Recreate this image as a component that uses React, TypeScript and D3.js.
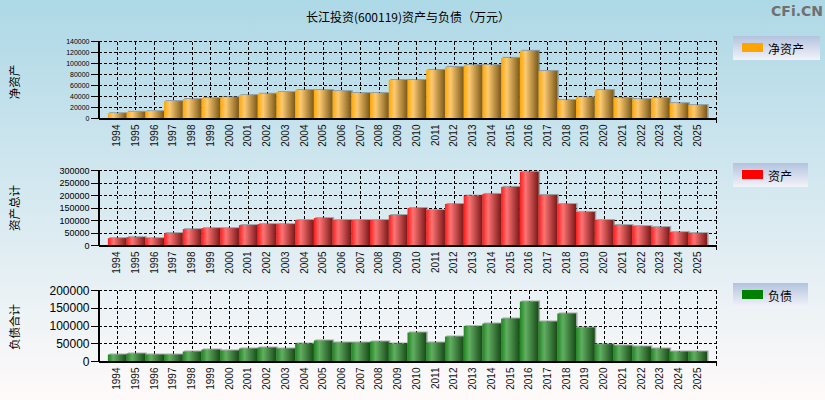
import React from "react";
import * as d3 from "d3";

const years = [
  "1994","1995","1996","1997","1998","1999","2000","2001","2002","2003","2004",
  "2005","2006","2007","2008","2009","2010","2011","2012","2013","2014","2015",
  "2016","2017","2018","2019","2020","2021","2022","2023","2024","2025",
];
const netAssets = [
  9700, 12200, 13400, 31700, 35300, 37100, 39000, 42600, 45000, 48100, 51700,
  51700, 49900, 46300, 46300, 70000, 70000, 88300, 93700, 97400, 97400, 110200,
  123000, 86400, 33500, 39000, 51700, 37100, 35300, 37100, 28000, 24400,
];
const totalAssets = [
  29500, 33500, 29500, 49600, 65600, 69600, 69600, 81700, 85700, 85700, 101800,
  109800, 101800, 101800, 101800, 121900, 150000, 142000, 166000, 199600, 206300, 234400,
  294600, 202200, 166000, 133900, 101800, 81700, 77700, 73700, 53600, 49600,
];
const totalLiabilities = [
  19700, 22500, 19700, 19700, 28200, 33800, 31000, 36600, 39400, 36600, 50700,
  59200, 53500, 53500, 56300, 50700, 81700, 53500, 70400, 99500, 107000, 121100,
  169000, 112700, 135200, 95800, 48800, 45000, 42300, 36600, 28200, 28200,
];

const titleText = "长江投资(600119)资产与负债（万元）";

type Panel = {
  key: string;
  values: number[];
  max: number;
  step: number;
  top: number;
  bottom: number;
  tickFont: number;
  yTitle: string;
  yTitleY: number;
  legend: string;
  legendColor: string;
  legendBox: [number, number, number, number];
  grad: string[];
};

const panels: Panel[] = [
  {
    key: "net", values: netAssets, max: 140000, step: 20000, top: 41.5, bottom: 118.5,
    tickFont: 7, yTitle: "净资产", yTitleY: 82, legend: "净资产", legendColor: "#ffa500",
    legendBox: [733, 36, 87, 24], grad: ["#ffa600", "#fdca72", "#7a5818"],
  },
  {
    key: "assets", values: totalAssets, max: 300000, step: 50000, top: 170.5, bottom: 245.5,
    tickFont: 9, yTitle: "资产总计", yTitleY: 208, legend: "资产", legendColor: "#ff0000",
    legendBox: [733, 163, 75, 24], grad: ["#ff1a1a", "#ff7474", "#7a1818"],
  },
  {
    key: "liab", values: totalLiabilities, max: 200000, step: 50000, top: 290.5, bottom: 361.5,
    tickFont: 12, yTitle: "负债合计", yTitleY: 327, legend: "负债", legendColor: "#008000",
    legendBox: [733, 283, 75, 24], grad: ["#1e861e", "#62ae62", "#174a17"],
  },
];

const X0 = 98.5;
const X1 = 716.5;
const font = "'Liberation Sans', Arial, sans-serif";
const cjk = "'Noto Sans CJK SC', 'Liberation Sans', sans-serif";
const snap = (v: number) => Math.round(v - 0.5) + 0.5;

export default function App() {
  const slot = (X1 - X0) / (years.length + 1);
  const x = d3.scaleBand<string>().domain(years).range([X0 + slot / 2, X1 - slot / 2]).padding(0);
  const bw = x.bandwidth();

  return (
    <svg width={825} height={400} style={{ position: "absolute", left: 0, top: 0 }}
      xmlns="http://www.w3.org/2000/svg">
      <defs>
        <linearGradient id="bg" x1="0" y1="0" x2="0" y2="1">
          <stop offset="0" stopColor="#add8e6" />
          <stop offset="1" stopColor="#fffafa" />
        </linearGradient>
        <linearGradient id="lg" x1="0" y1="0" x2="0" y2="1">
          <stop offset="0" stopColor="#b3c3df" />
          <stop offset="1" stopColor="#f3f3f9" />
        </linearGradient>
        {panels.map((p) => (
          <linearGradient key={p.key} id={"g-" + p.key} x1="0" y1="0" x2="1" y2="0">
            <stop offset="0" stopColor={p.grad[0]} />
            <stop offset="0.3" stopColor={p.grad[1]} />
            <stop offset="1" stopColor={p.grad[2]} />
          </linearGradient>
        ))}
      </defs>
      <rect x={0} y={0} width={825} height={400} fill="url(#bg)" />

      <text x={408} y={22} textAnchor="middle" fontFamily={cjk} fontSize={12} fill="#000">
        {titleText}
      </text>
      <text x={823} y={16} textAnchor="end" fontFamily="'DejaVu Sans', sans-serif" fontWeight="bold"
        fontSize={14} fill="#707070">CFi.CN</text>

      {panels.map((p) => {
        const y = d3.scaleLinear().domain([0, p.max]).range([p.bottom, p.top]);
        const ticks = d3.range(0, p.max + 1, p.step);
        const [lx, ly, lw, lh] = p.legendBox;
        return (
          <g key={p.key}>
            <g shapeRendering="crispEdges">
              {ticks.slice(1).map((t) => (
                <line key={"h" + t} x1={X0} x2={X1} y1={snap(y(t))} y2={snap(y(t))} stroke="#000"
                  strokeWidth={1} strokeDasharray="3,2" />
              ))}
              {years.map((yr) => (
                <line key={"v" + yr} x1={snap(x(yr)! + bw / 2)} x2={snap(x(yr)! + bw / 2)} y1={p.top} y2={p.bottom}
                  stroke="#000" strokeWidth={1} strokeDasharray="3,2" />
              ))}
              <line x1={X1} x2={X1} y1={p.top} y2={p.bottom} stroke="#000" strokeDasharray="3,2" />
            </g>
            {p.values.map((v, i) => (
              <rect key={"s" + i} x={x(years[i])! + 1.5} y={y(v) - 1} width={bw}
                height={p.bottom - y(v) + 1} fill="#6b6b6b" opacity={0.55} />
            ))}
            {p.values.map((v, i) => (
              <rect key={"b" + i} x={x(years[i])!} y={y(v)} width={bw}
                height={p.bottom - y(v)} fill={`url(#g-${p.key})`} />
            ))}
            <g shapeRendering="crispEdges">
              <line x1={X0} x2={X0} y1={p.top} y2={p.bottom} stroke="#000" strokeWidth={2} />
              <line x1={X0} x2={X1} y1={p.bottom} y2={p.bottom} stroke="#000" strokeWidth={2} />
              <line x1={X1} x2={X1} y1={p.bottom} y2={p.bottom + 4} stroke="#000" strokeWidth={1} />
              {ticks.map((t) => (
                <line key={"tk" + t} x1={X0 - 8} x2={X0} y1={snap(y(t))} y2={snap(y(t))} stroke="#000" strokeWidth={1} />
              ))}
            </g>
            {ticks.map((t) => (
              <text key={"t" + t} x={X0 - 9} y={y(t)} dy="0.35em" textAnchor="end" fontFamily={font}
                fontSize={p.tickFont} fill="#000">{t}</text>
            ))}
            {years.map((yr) => (
              <text key={"xl" + yr} transform={`translate(${x(yr)! + bw / 2 - 0.5},${p.bottom + 6}) rotate(-90)`}
                textAnchor="end" dominantBaseline="central" fontFamily={font} fontSize={10} fill="#111">
                {yr}
              </text>
            ))}
            <text transform={`translate(14,${p.yTitleY}) rotate(-90)`} textAnchor="middle"
              dominantBaseline="central" fontFamily={cjk} fontSize={11.5} fill="#000">{p.yTitle}</text>
            <rect x={lx} y={ly} width={lw} height={lh} fill="url(#lg)" />
            <rect x={lx + 9} y={ly + 7} width={21} height={9} fill={p.legendColor} />
            <text x={lx + 35} y={ly + 12} dominantBaseline="central" fontFamily={cjk}
              fontSize={12} fill="#000">{p.legend}</text>
          </g>
        );
      })}
    </svg>
  );
}
